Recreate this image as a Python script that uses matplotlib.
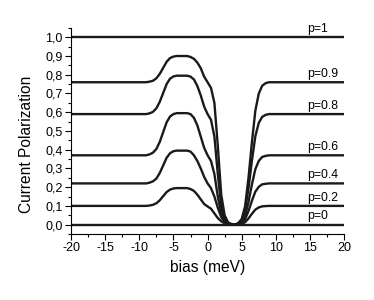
import numpy as np
import matplotlib
matplotlib.use("Agg")
import matplotlib.pyplot as plt
from matplotlib.ticker import MultipleLocator, FuncFormatter

plt.rcParams['font.family'] = ['Liberation Sans', 'DejaVu Sans']
plt.rcParams['axes.unicode_minus'] = False

# bias points (meV)
bias = [-20, -9, -8.5, -8, -7.5, -7, -6.5, -6, -5.5, -5, -4.5, -3, -2.5, -2, -1.5,
        -1, -0.5, 0, 0.5, 1, 1.5, 2, 2.5, 3, 3.5, 4, 4.5, 5, 5.5, 6, 6.5,
        7, 7.5, 8, 8.5, 9, 20]

pol_p0 = [0.0] * len(bias)
pol_p1 = [1.0] * len(bias)
pol_p02 = [0.10, 0.10, 0.102, 0.106, 0.114, 0.13, 0.152, 0.174, 0.187, 0.193, 0.195,
           0.195, 0.19, 0.18, 0.16, 0.135, 0.11, 0.097, 0.085, 0.06, 0.035, 0.018,
           0.007, 0.002, 0.001, 0.0, 0.001, 0.004, 0.013, 0.033, 0.058,
           0.08, 0.092, 0.0975, 0.099, 0.10, 0.10]
pol_p04 = [0.22, 0.22, 0.224, 0.231, 0.246, 0.276, 0.316, 0.357, 0.381, 0.392, 0.395,
           0.395, 0.39, 0.37, 0.34, 0.30, 0.255, 0.22, 0.195, 0.15, 0.09, 0.04,
           0.015, 0.004, 0.001, 0.0, 0.002, 0.009, 0.029, 0.073, 0.128,
           0.176, 0.202, 0.215, 0.218, 0.22, 0.22]
pol_p06 = [0.37, 0.37, 0.375, 0.384, 0.404, 0.442, 0.494, 0.546, 0.577, 0.59, 0.595,
           0.595, 0.59, 0.57, 0.53, 0.47, 0.41, 0.37, 0.34, 0.27, 0.15, 0.06,
           0.02, 0.005, 0.001, 0.0, 0.004, 0.015, 0.048, 0.122, 0.215,
           0.296, 0.34, 0.361, 0.367, 0.37, 0.37]
pol_p08 = [0.59, 0.59, 0.594, 0.602, 0.621, 0.656, 0.703, 0.75, 0.779, 0.791, 0.795,
           0.795, 0.79, 0.775, 0.74, 0.69, 0.63, 0.59, 0.56, 0.47, 0.27, 0.10,
           0.03, 0.008, 0.002, 0.0, 0.006, 0.024, 0.077, 0.195, 0.342,
           0.472, 0.543, 0.575, 0.586, 0.59, 0.59]
pol_p09 = [0.76, 0.76, 0.763, 0.768, 0.781, 0.805, 0.837, 0.869, 0.889, 0.897, 0.90,
           0.90, 0.895, 0.885, 0.865, 0.835, 0.79, 0.76, 0.73, 0.65, 0.42, 0.16,
           0.05, 0.012, 0.003, 0.0, 0.008, 0.03, 0.099, 0.251, 0.441,
           0.608, 0.699, 0.741, 0.755, 0.76, 0.76]

curves = [pol_p0, pol_p02, pol_p04, pol_p06, pol_p08, pol_p09, pol_p1]
labels = ["p=0", "p=0.2", "p=0.4", "p=0.6", "p=0.8", "p=0.9", "p=1"]

fig = plt.figure(figsize=(3.74, 3.0), dpi=100)
ax = fig.add_axes([0.19, 0.22, 0.73, 0.687])

for y, lab in zip(curves, labels):
    ax.plot(bias, y, color='#1a1a1a', lw=1.7, solid_joinstyle='round')
    ax.text(14.6, y[-1] + 0.012, lab, fontsize=8.8, ha='left', va='bottom')

ax.set_xlim(-20, 20)
ax.set_ylim(-0.05, 1.05)
ax.xaxis.set_major_locator(MultipleLocator(5))
ax.xaxis.set_minor_locator(MultipleLocator(2.5))
ax.yaxis.set_major_locator(MultipleLocator(0.1))
ax.yaxis.set_minor_locator(MultipleLocator(0.05))
ax.yaxis.set_major_formatter(FuncFormatter(lambda v, _: f"{v:.1f}".replace('.', ',')))
ax.tick_params(which='major', direction='out', length=4, width=0.8, labelsize=9, pad=2)
ax.tick_params(which='minor', direction='out', length=2, width=0.8)
ax.spines['top'].set_visible(False)
ax.spines['right'].set_visible(False)
ax.spines['left'].set_linewidth(0.8)
ax.spines['bottom'].set_linewidth(0.8)

ax.set_xlabel("bias (meV)", fontsize=11.2, labelpad=4)
ax.set_ylabel("Current Polarization", fontsize=11.2)
ax.yaxis.set_label_coords(-0.136, 0.437)

fig.savefig("out.png", dpi=100)
